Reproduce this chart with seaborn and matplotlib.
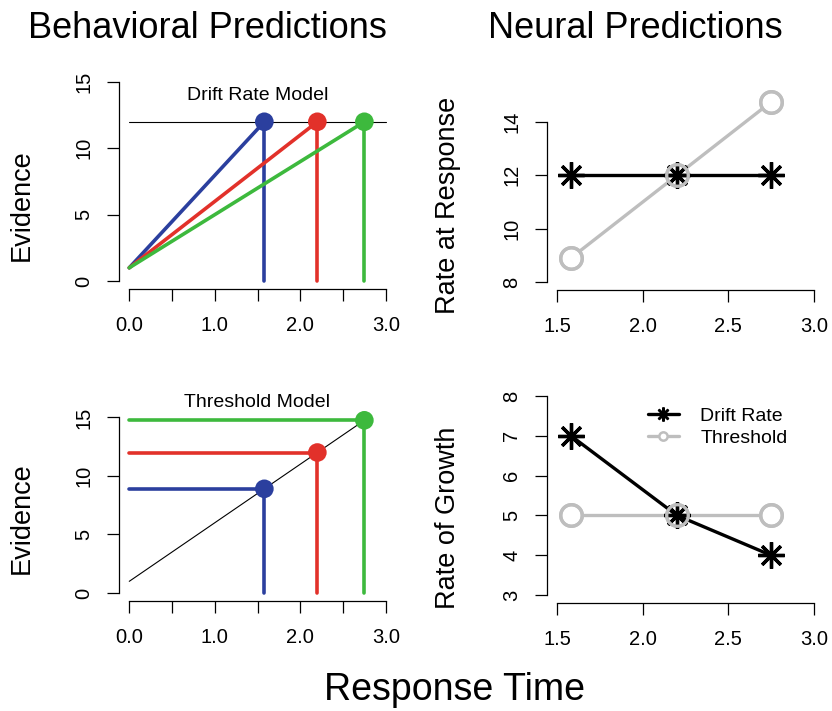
import matplotlib
matplotlib.use("Agg")
import matplotlib.pyplot as plt
from matplotlib.lines import Line2D
import numpy as np
import pandas as pd
import seaborn as sns

sns.set_style("ticks")
plt.rcParams['font.family'] = ['Liberation Sans', 'DejaVu Sans']
plt.rcParams['text.color'] = 'black'
plt.rcParams['xtick.color'] = 'black'
plt.rcParams['ytick.color'] = 'black'

# data
rts = [1.58, 2.2, 2.75]
colors = ['#2B3F9E', '#E2312A', '#3DB93D']
start = 1.0
drift_threshold = 12.0
thresholds = [8.9, 12.0, 14.75]
drift_rates = [7.0, 5.0, 4.0]
threshold_rate = [5.0, 5.0, 5.0]
drift_at_resp = [12.0, 12.0, 12.0]

W, H = 832, 711
fig = plt.figure(figsize=(W / 100, H / 100), dpi=100)


def add_ax(l, r, t, b):
    return fig.add_axes([l / W, 1 - b / H, (r - l) / W, (b - t) / H])


def seg(ax, xs, ys, c, lw):
    sns.lineplot(x=xs, y=ys, color=c, lw=lw, estimator=None, sort=False, ax=ax)


def style(ax, xlim, ylim, yticks, xticks, xlabels):
    ax.set_xlim(*xlim)
    ax.set_ylim(*ylim)
    for s in ['top', 'right']:
        ax.spines[s].set_visible(False)
    ax.spines['left'].set_bounds(yticks[0], yticks[-1])
    ax.spines['bottom'].set_bounds(xticks[0], xticks[-1])
    for s in ['left', 'bottom']:
        ax.spines[s].set_linewidth(0.9)
        ax.spines[s].set_color('black')
    ax.set_yticks(yticks)
    ax.set_yticklabels([str(v) for v in yticks])
    ax.set_xticks(xticks)
    ax.set_xticklabels(xlabels)
    ax.tick_params(axis='both', length=8.6, width=0.9, labelsize=14.5, colors='black')
    ax.tick_params(axis='y', pad=10, labelrotation=90)
    ax.tick_params(axis='x', pad=11)
    for lab in ax.get_yticklabels():
        lab.set_va('center')
    ax.set_xlabel('')
    ax.set_ylabel('')
    ax.patch.set_alpha(0)


xt_left = [0, 0.5, 1.0, 1.5, 2.0, 2.5, 3.0]
xl_left = ['0.0', '', '1.0', '', '2.0', '', '3.0']
xt_right = [1.5, 2.0, 2.5, 3.0]
xl_right = ['1.5', '2.0', '2.5', '3.0']

# drift rate model
ax1 = add_ax(119, 396, 74, 289)
ax1.plot([0, 3.0], [drift_threshold, drift_threshold], color='black', lw=0.8)
for rt, c in zip(rts, colors):
    seg(ax1, [0, rt], [start, drift_threshold], c, 2.6)
    seg(ax1, [rt, rt], [0, drift_threshold], c, 2.6)
sns.scatterplot(x=rts, y=[drift_threshold] * 3, hue=[0, 1, 2], palette=colors,
                s=180, linewidth=0, legend=False, ax=ax1, zorder=5)
ax1.text(1.5, 14.0, 'Drift Rate Model', ha='center', va='center', fontsize=14)
style(ax1, (-0.12, 3.12), (-0.6, 15.6), [0, 5, 10, 15], xt_left, xl_left)

# threshold model
ax3 = add_ax(119, 396, 386, 601)
ax3.plot([0, rts[-1]], [start, thresholds[-1]], color='black', lw=0.8)
for rt, th, c in zip(rts, thresholds, colors):
    seg(ax3, [0, rt], [th, th], c, 2.6)
    seg(ax3, [rt, rt], [0, th], c, 2.6)
sns.scatterplot(x=rts, y=thresholds, hue=[0, 1, 2], palette=colors,
                s=180, linewidth=0, legend=False, ax=ax3, zorder=5)
ax3.text(1.5, 16.3, 'Threshold Model', ha='center', va='center', fontsize=14)
style(ax3, (-0.12, 3.12), (-0.68, 17.68), [0, 5, 10, 15], xt_left, xl_left)

star = (8, 2, 0)
gray = '#BEBEBE'


def neural(ax, drift_vals, thr_vals):
    sns.lineplot(x=rts, y=thr_vals, color=gray, lw=2.4, marker='o',
                 markersize=15.5, markeredgewidth=2.4, markerfacecolor='white',
                 markeredgecolor=gray, estimator=None, ax=ax, zorder=2)
    sns.lineplot(x=rts, y=drift_vals, color='black', lw=2.4, marker=star,
                 markersize=19, markeredgewidth=2.4, markeredgecolor='black',
                 estimator=None, ax=ax, zorder=3)
    ax.plot(rts, thr_vals, ls='none', marker='o', markersize=15.5,
            markeredgewidth=2.4, markerfacecolor='none', markeredgecolor=gray, zorder=4)


# rate at response
ax2 = add_ax(547, 824, 74, 290)
neural(ax2, drift_at_resp, thresholds)
style(ax2, (1.44, 3.06), (7.7, 15.8), [8, 10, 12, 14], xt_right, xl_right)

# rate of growth
ax4 = add_ax(547, 824, 388, 603)
neural(ax4, drift_rates, threshold_rate)
style(ax4, (1.44, 3.06), (2.8, 8.2), [3, 4, 5, 6, 7, 8], xt_right, xl_right)

handles = [
    Line2D([], [], color='black', lw=2.4, marker=star, markersize=10, markeredgewidth=1.8),
    Line2D([], [], color=gray, lw=2.4, marker='o', markersize=6,
           markeredgewidth=1.8, markerfacecolor='white'),
]
ax4.legend(handles, ['Drift Rate', 'Threshold'], frameon=False, fontsize=14,
           loc='upper left', bbox_to_anchor=(0.336, 0.945), handlelength=1.6,
           handletextpad=1.1, labelspacing=0.2, borderaxespad=0)

# titles and labels
fig.text(207 / W, 1 - 28 / H, 'Behavioral Predictions', ha='center', va='center', fontsize=26)
fig.text(635 / W, 1 - 28 / H, 'Neural Predictions', ha='center', va='center', fontsize=26)
fig.text(455 / W, 1 - 690 / H, 'Response Time', ha='center', va='center', fontsize=27)
fig.text(22 / W, 1 - 205 / H, 'Evidence', rotation=90, ha='center', va='center', fontsize=19.5)
fig.text(22 / W, 1 - 518 / H, 'Evidence', rotation=90, ha='center', va='center', fontsize=19.5)
fig.text(448 / W, 1 - 205 / H, 'Rate at Response', rotation=90, ha='center', va='center', fontsize=19.5)
fig.text(448 / W, 1 - 518 / H, 'Rate of Growth', rotation=90, ha='center', va='center', fontsize=19.5)

fig.savefig('out.png', dpi=100, facecolor='white')
